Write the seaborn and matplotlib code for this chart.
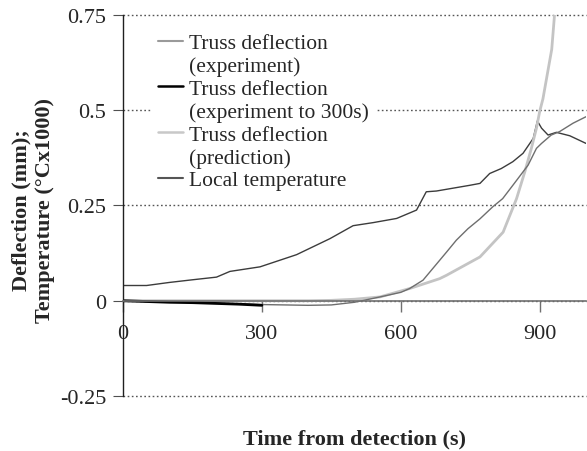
import numpy as np
import pandas as pd
import seaborn as sns
import matplotlib.pyplot as plt
from matplotlib.lines import Line2D

# --- data ---
# truss deflection, experiment (mm)
exp_time = [0, 50, 100, 150, 200, 250, 300, 350, 400, 450, 500, 555, 600, 619, 648,
            699, 720, 745, 771, 799, 820, 842, 875, 893, 904, 925, 943, 972, 1000]
exp_defl = [0.0, -0.002, -0.003, -0.004, -0.006, -0.008, -0.010, -0.011, -0.012, -0.011,
            -0.004, 0.010, 0.022, 0.032, 0.054, 0.128, 0.159, 0.189, 0.215, 0.247,
            0.268, 0.303, 0.356, 0.400, 0.413, 0.435, 0.444, 0.466, 0.483]

# truss deflection, experiment to 300 s
exp300_time = [0, 50, 100, 150, 200, 250, 300]
exp300_defl = [0.0, -0.002, -0.004, -0.005, -0.007, -0.009, -0.012]

# truss deflection, prediction
pred_time = [0, 100, 200, 300, 400, 450, 500, 555, 619, 684, 699, 771, 821, 850,
             868, 882, 893, 900, 907, 926, 932, 950]
pred_defl = [0.0, 0.0, 0.0, 0.0, 0.0, 0.001, 0.004, 0.010, 0.032, 0.058, 0.067, 0.115,
             0.180, 0.268, 0.339, 0.400, 0.453, 0.497, 0.530, 0.660, 0.750, 0.950]

# local temperature (degC x 1000)
temp_time = [0, 51, 100, 150, 202, 231, 296, 375, 447, 497, 540, 591, 634, 655, 677,
             749, 771, 792, 817, 842, 864, 886, 895, 904, 918, 936, 965, 1000]
temp_val = [0.040, 0.040, 0.048, 0.055, 0.062, 0.077, 0.089, 0.121, 0.163, 0.197, 0.205,
            0.216, 0.238, 0.286, 0.288, 0.303, 0.308, 0.334, 0.347, 0.365, 0.387, 0.426,
            0.472, 0.453, 0.435, 0.442, 0.433, 0.413]

x_ticks = [0, 300, 600, 900]
y_ticks = [-0.25, 0, 0.25, 0.5, 0.75]
y_tick_labels = ["-0.25", "0", "0.25", "0.5", "0.75"]

legend_labels = ["Truss deflection", "(experiment)",
                 "Truss deflection", "(experiment to 300s)",
                 "Truss deflection", "(prediction)",
                 "Local temperature"]

# --- style ---
sns.set_style("white")
plt.rcParams["font.family"] = ["Liberation Serif", "DejaVu Serif"]

fig = plt.figure(figsize=(5.87, 4.52), dpi=100)
ax = fig.add_axes([0.2095, 0.1217, 0.7888, 0.8429])

# lines
sns.lineplot(x=temp_time, y=temp_val, ax=ax, color="#3c3c3c", linewidth=1.0)
sns.lineplot(x=pred_time, y=pred_defl, ax=ax, color="#c4c4c4", linewidth=2.0)
sns.lineplot(x=exp_time, y=exp_defl, ax=ax, color="#6e6e6e", linewidth=1.0)
sns.lineplot(x=exp300_time, y=exp300_defl, ax=ax, color="black", linewidth=2.0)

ax.set_xlim(0, 1000)
ax.set_ylim(-0.25, 0.75)
ax.set_xticks(x_ticks)
ax.set_xticklabels([str(t) for t in x_ticks])
ax.set_yticks(y_ticks)
ax.set_yticklabels(y_tick_labels)

# spines: left solid, x axis through zero
for s in ["top", "right"]:
    ax.spines[s].set_visible(False)
ax.spines["bottom"].set_position(("data", 0))
ax.spines["bottom"].set_color("#707070")
ax.spines["bottom"].set_linewidth(1.2)
ax.spines["left"].set_color("#202020")
ax.spines["left"].set_linewidth(1.0)

ax.tick_params(axis="x", direction="out", length=8, width=1, color="#707070",
               pad=8.5, labelsize=16, bottom=True)
ax.tick_params(axis="y", direction="out", length=7, width=0.8, color="#505050",
               pad=5, labelsize=16, left=True)

ax.yaxis.grid(True, linestyle=(0, (1.2, 1.8)), color="#555555", linewidth=1.0)
ax.xaxis.grid(False)
ax.set_axisbelow(True)
for gl in ax.yaxis.get_gridlines():
    gl.set_clip_on(False)

ax.set_xlabel("Time from detection (s)", fontsize=16, fontweight="bold")
ax.xaxis.set_label_coords(0.5, -0.085)
ax.set_ylabel("Deflection (mm);\nTemperature (°Cx1000)", fontsize=16,
              fontweight="bold", multialignment="center", linespacing=1.2)
ax.yaxis.set_label_coords(-0.147, 0.49)

# legend (second lines as handle-less entries so handles sit by first line)
handle_styles = [("#9a9a9a", 1.5), ("none", 1), ("black", 1.8), ("none", 1),
                 ("#c8c8c8", 1.8), ("none", 1), ("#555555", 1.5)]
handles = [Line2D([], [], color=c, linewidth=w) for c, w in handle_styles]
leg = ax.legend(handles, legend_labels, loc="upper left",
                bbox_to_anchor=(0.0595, 0.972), fontsize=15.5, frameon=True,
                framealpha=1, facecolor="white", edgecolor="none", fancybox=False,
                handlelength=1.15, handletextpad=0.3, labelspacing=0.13,
                borderpad=0.35, borderaxespad=0)

fig.savefig("out.png", dpi=100)
